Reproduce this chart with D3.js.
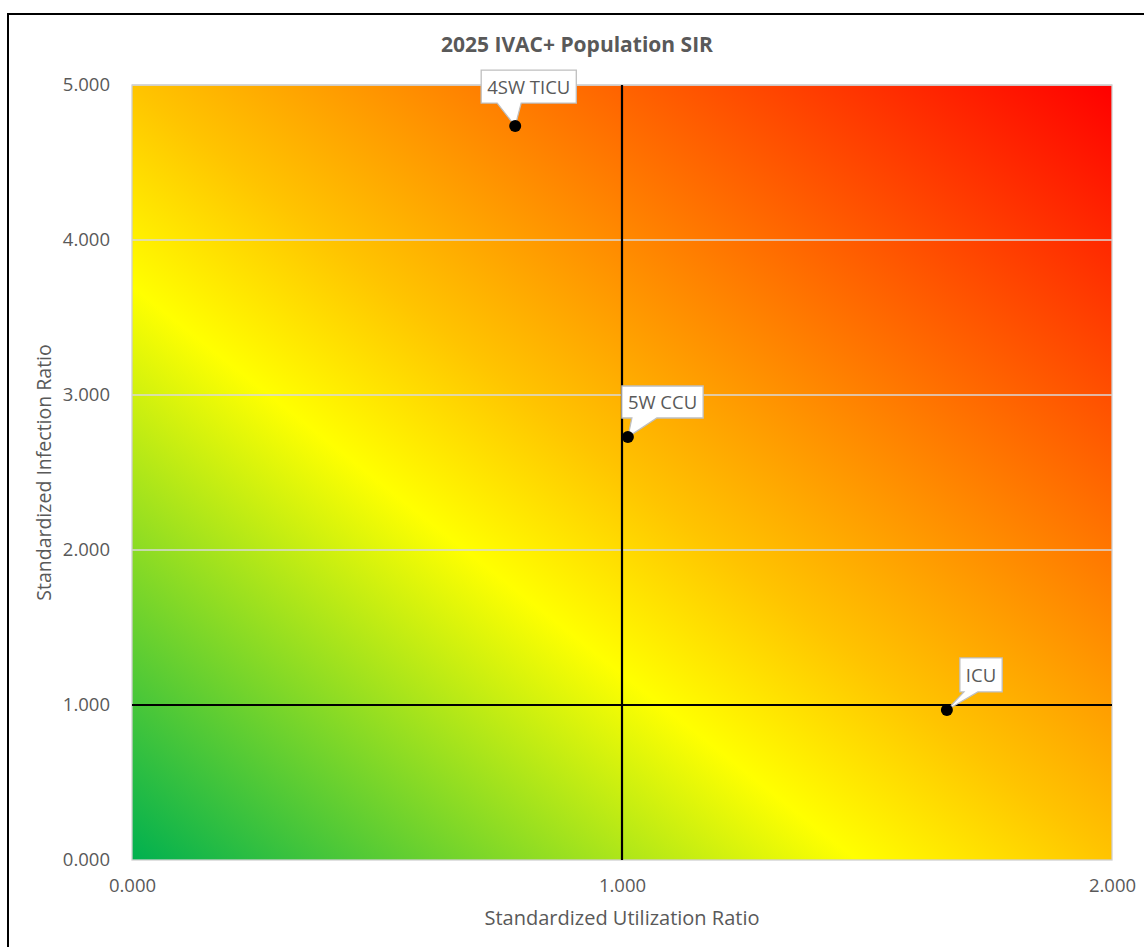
<!DOCTYPE html>
<html>
<head>
<meta charset="utf-8">
<script src="https://cdn.jsdelivr.net/npm/d3@7"></script>
<style>
  html, body { margin: 0; padding: 0; background: #fff; }
  svg { display: block; font-family: "Open Sans", "Noto Sans", sans-serif; }
</style>
</head>
<body>
<svg id="chart" width="1144" height="947"></svg>
<script>
// Units and their ratios
const units = ["4SW TICU", "5W CCU", "ICU"];
const utilization = [0.782, 1.012, 1.663];
const infection = [4.735, 2.729, 0.968];

// Axis ticks
const xTicks = [0, 1, 2];
const yTicks = [0, 1, 2, 3, 4, 5];

// Reference lines (benchmark = 1.0 on both axes)
const refX = 1;
const refY = 1;

// Callout placement relative to each point (pixels)
const callouts = [
  { dx: -34, dy: -56, h: 33, b0: -18, b1: 6 },
  { dx: -6, dy: -51, h: 32, b0: 4, b1: 29 },
  { dx: 13, dy: -52, h: 34, b0: 17, b1: 31 }
];

const svg = d3.select("#chart");
const plot = { left: 132, top: 85, right: 1112, bottom: 860 };

const x = d3.scaleLinear().domain([0, 2]).range([plot.left, plot.right]);
const y = d3.scaleLinear().domain([0, 5]).range([plot.bottom, plot.top]);

// Outer chart frame
svg.append("rect")
  .attr("x", 8).attr("y", 14)
  .attr("width", 1160).attr("height", 960)
  .attr("fill", "#fff").attr("stroke", "#000").attr("stroke-width", 2);

// Diagonal risk gradient for the plot background
const defs = svg.append("defs");
const grad = defs.append("linearGradient")
  .attr("id", "risk")
  .attr("x1", 0).attr("y1", 1).attr("x2", 1).attr("y2", 0);
[
  [0, "#00b050"],
  [0.37, "#ffff00"],
  [0.5, "#ffc400"],
  [1, "#ff0000"]
].forEach(([o, c]) => grad.append("stop").attr("offset", o).attr("stop-color", c));

svg.append("rect")
  .attr("x", plot.left).attr("y", plot.top)
  .attr("width", plot.right - plot.left).attr("height", plot.bottom - plot.top)
  .attr("fill", "url(#risk)");

// Horizontal gridlines
svg.append("g")
  .selectAll("line")
  .data(yTicks.filter(d => d > 0))
  .join("line")
  .attr("x1", plot.left).attr("x2", plot.right)
  .attr("y1", d => y(d)).attr("y2", d => y(d))
  .attr("stroke", "#d9d9d9").attr("stroke-width", 1.3);

// Plot area border
svg.append("rect")
  .attr("x", plot.left).attr("y", plot.top)
  .attr("width", plot.right - plot.left).attr("height", plot.bottom - plot.top)
  .attr("fill", "none").attr("stroke", "#d0d0d0").attr("stroke-width", 1.3);

// Axes
const fmt = d3.format(".3f");
const yAxis = svg.append("g")
  .attr("transform", `translate(${plot.left},0)`)
  .call(d3.axisLeft(y).tickValues(yTicks).tickFormat(fmt).tickSize(0).tickPadding(22));
const xAxis = svg.append("g")
  .attr("transform", `translate(0,${plot.bottom})`)
  .call(d3.axisBottom(x).tickValues(xTicks).tickFormat(fmt).tickSize(0).tickPadding(19));
[yAxis, xAxis].forEach(g => {
  g.select(".domain").remove();
  g.selectAll("text")
    .attr("fill", "#595959")
    .style("font-size", "18.5px")
    .style("font-family", "\"Open Sans\", sans-serif");
});

// Benchmark reference lines
svg.append("line")
  .attr("x1", x(refX)).attr("x2", x(refX))
  .attr("y1", plot.top).attr("y2", plot.bottom)
  .attr("stroke", "#000").attr("stroke-width", 2.2);
svg.append("line")
  .attr("x1", plot.left).attr("x2", plot.right)
  .attr("y1", y(refY)).attr("y2", y(refY))
  .attr("stroke", "#000").attr("stroke-width", 2.2);

// Title
svg.append("text")
  .attr("x", 577).attr("y", 52)
  .attr("text-anchor", "middle")
  .attr("fill", "#595959")
  .style("font-size", "21px").style("font-weight", "bold")
  .text("2025 IVAC+ Population SIR");

// Axis titles
svg.append("text")
  .attr("x", x(1)).attr("y", 925)
  .attr("text-anchor", "middle")
  .attr("fill", "#595959")
  .style("font-size", "20px")
  .text("Standardized Utilization Ratio");
svg.append("text")
  .attr("transform", `translate(51,${(plot.top + plot.bottom) / 2}) rotate(-90)`)
  .attr("text-anchor", "middle")
  .attr("fill", "#595959")
  .style("font-size", "19.5px")
  .text("Standardized Infection Ratio");

// Points
const pts = units.map((u, i) => ({ name: u, px: x(utilization[i]), py: y(infection[i]), c: callouts[i] }));

// Callout labels
const lab = svg.append("g").selectAll("g").data(pts).join("g");
lab.each(function(d) {
  const g = d3.select(this);
  const t = g.append("text")
    .attr("fill", "#595959")
    .style("font-size", "18.5px")
    .attr("text-anchor", "middle")
    .text(d.name);
  const w = t.node().getComputedTextLength() + 12;
  const bx = d.px + d.c.dx, by = d.py + d.c.dy, bh = d.c.h;
  const path = [
    [bx, by], [bx + w, by], [bx + w, by + bh],
    [d.px + d.c.b1, by + bh], [d.px, d.py], [d.px + d.c.b0, by + bh],
    [bx, by + bh]
  ];
  g.insert("path", "text")
    .attr("d", "M" + path.map(p => p.join(",")).join("L") + "Z")
    .attr("fill", "#fff").attr("stroke", "#bfbfbf").attr("stroke-width", 1.3);
  t.attr("x", bx + w / 2).attr("y", by + bh / 2 + 7);
});

svg.append("g").selectAll("circle").data(pts).join("circle")
  .attr("cx", d => d.px).attr("cy", d => d.py)
  .attr("r", 6).attr("fill", "#000");
</script>
</body>
</html>
